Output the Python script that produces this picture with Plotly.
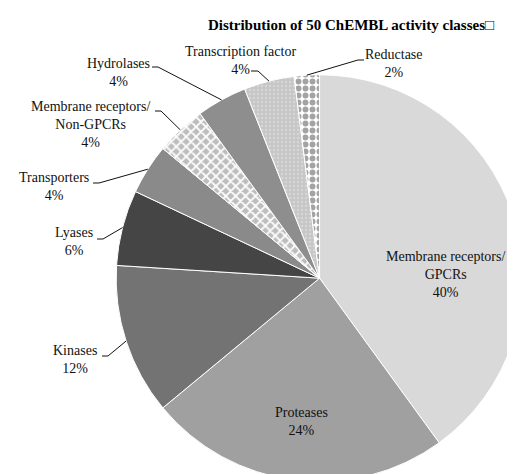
import math
import plotly.graph_objects as go

# canvas
W, H = 515, 474

# data: 50 ChEMBL activity classes
classes = ["Membrane receptors/ GPCRs", "Proteases", "Kinases", "Lyases", "Transporters",
           "Membrane receptors/ Non-GPCRs", "Hydrolases", "Transcription factor", "Reductase"]
counts = [20, 12, 6, 3, 2, 2, 2, 2, 1]
display_names = ["Membrane receptors/<br>GPCRs", "Proteases", "Kinases", "Lyases", "Transporters",
                 "Membrane receptors/<br>Non-GPCRs", "Hydrolases", "Transcription factor", "Reductase"]

# styling
colors = ["#d9d9d9", "#a0a0a0", "#737373", "#454545", "#8a8a8a",
          "#bdbdbd", "#8e8e8e", "#c6c6c6", "#ffffff"]
pat_shape = ["", "", "", "", "", "x", "", ".", "."]
pat_fg = ["#d9d9d9", "#a0a0a0", "#737373", "#454545", "#8a8a8a",
          "#ffffff", "#8e8e8e", "#d6d6d6", "#a3a3a3"]
pat_size = [8, 8, 8, 8, 8, 7, 8, 4, 7]
pat_solid = [0.3, 0.3, 0.3, 0.3, 0.3, 0.45, 0.3, 0.35, 0.55]

# label placement (pixels): text centre, leader start, elbow end
label_pos = {
    "Membrane receptors/ GPCRs": dict(t=(437, 266)),
    "Proteases": dict(t=(293, 413)),
    "Kinases": dict(t=(67, 351), s=(94, 348), e=(100, 348)),
    "Lyases": dict(t=(66, 234), s=(89, 231), e=(95, 231)),
    "Transporters": dict(t=(46, 178), s=(85, 175), e=(91, 175)),
    "Membrane receptors/ Non-GPCRs": dict(t=(82, 117), s=(147, 103), e=(153, 103)),
    "Hydrolases": dict(t=(110, 64), s=(144, 59), e=(150, 59)),
    "Transcription factor": dict(t=(232, 53), s=(243, 63), e=(250, 63)),
    "Reductase": dict(t=(386, 55), s=(356, 52), e=(350, 52)),
}

dom_x = [0.21, 1.0]
dom_y = [0.0, 0.86]


def px(x):
    return x / W


def py(y):
    return 1 - y / H


fig = go.Figure()

fig.add_trace(
    go.Pie(
        labels=classes,
        values=counts,
        sort=False,
        direction="clockwise",
        rotation=0,
        textinfo="none",
        textposition="none",
        hoverinfo="label+percent",
        showlegend=False,
        domain=dict(x=dom_x, y=dom_y),
        marker=dict(
            colors=colors,
            line=dict(color="#ffffff", width=1),
            pattern=dict(
                shape=pat_shape,
                fgcolor=pat_fg,
                bgcolor=colors,
                size=pat_size,
                solidity=pat_solid,
            ),
        ),
    )
)

# pie geometry, same rule plotly uses
cx = W * (dom_x[0] + dom_x[1]) / 2
cy = H - H * (dom_y[0] + dom_y[1]) / 2
r = min(W * (dom_x[1] - dom_x[0]), H * (dom_y[1] - dom_y[0])) / 2

total = sum(counts)
cum = 0
for name, shown, c in zip(classes, display_names, counts):
    mid = (cum + c / 2) / total * 2 * math.pi
    cum += c
    pos = label_pos[name]
    pct = round(100 * c / total)

    fig.add_annotation(
        x=px(pos["t"][0]), y=py(pos["t"][1]),
        xref="paper", yref="paper",
        text=f"{shown}<br>{pct}%",
        showarrow=False,
        xanchor="center", yanchor="middle",
        font=dict(family="Liberation Serif", size=14, color="#111111"),
    )

    if "s" in pos:
        ex = cx + r * math.sin(mid)
        ey = cy - r * math.cos(mid)
        path = (f"M {px(pos['s'][0])},{py(pos['s'][1])} "
                f"L {px(pos['e'][0])},{py(pos['e'][1])} "
                f"L {px(ex)},{py(ey)}")
        fig.add_shape(
            type="path", path=path, xref="paper", yref="paper",
            line=dict(color="#111111", width=1),
        )

fig.update_layout(
    width=W,
    height=H,
    margin=dict(l=0, r=0, t=0, b=0),
    paper_bgcolor="#ffffff",
    plot_bgcolor="#ffffff",
    title=dict(
        text="<b>Distribution of 50 ChEMBL activity classes□</b>",
        x=343 / W, xanchor="center",
        y=py(17), yanchor="middle",
        font=dict(family="Liberation Serif", size=15, color="#000000"),
    ),
)

fig.write_html("out.html")
